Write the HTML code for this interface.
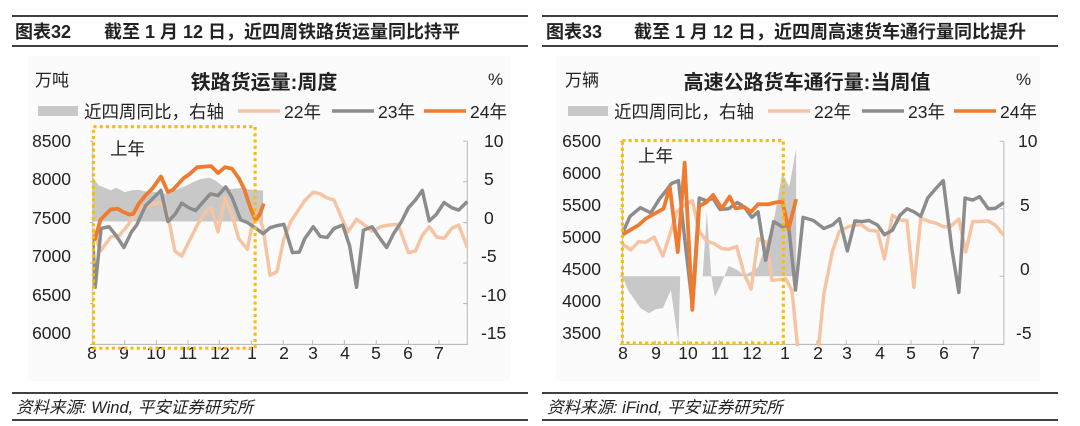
<!DOCTYPE html>
<html><head><meta charset="utf-8"><style>
html,body{margin:0;padding:0;background:#fff;width:1080px;height:426px;overflow:hidden}
svg{display:block}
text{font-family:"Liberation Sans","Noto Sans CJK SC",sans-serif;fill:#222}
</style></head><body>
<svg width="1080" height="426" viewBox="0 0 1080 426" xmlns="http://www.w3.org/2000/svg">
<defs>
<clipPath id="cl"><rect x="268" y="380" width="1085" height="620"/></clipPath>
<clipPath id="cr"><rect x="238" y="380" width="1105" height="620"/></clipPath>
</defs>
<!-- LEFT -->
<g>
<line x1="12" y1="16" x2="528" y2="16" stroke="#000" stroke-width="1.5"/>
<line x1="12" y1="46" x2="528" y2="46" stroke="#000" stroke-width="1.5"/>
<text x="15" y="38" font-size="18" font-weight="bold">图表32</text>
<text x="104" y="38" font-size="18" font-weight="bold">截至 1 月 12 日，近四周铁路货运量同比持平</text>
<line x1="12" y1="393" x2="528" y2="393" stroke="#000" stroke-width="1.5"/>
<line x1="12" y1="420" x2="528" y2="420" stroke="#000" stroke-width="1.5"/>
<text x="16" y="413" font-size="16.5" font-style="italic" fill="#333">资料来源: Wind, 平安证券研究所</text>
<rect x="28" y="56" width="482" height="325" fill="#fbfbfb"/>
<text x="35" y="86" font-size="17" fill="#444">万吨</text>
<text x="264" y="89" font-size="20" font-weight="bold" text-anchor="middle">铁路货运量:周度</text>
<text x="488" y="85" font-size="17">%</text>
<rect x="38" y="106" width="40" height="10" fill="#c8c8c8"/>
<text x="84" y="118" font-size="17.5" fill="#444">近四周同比，右轴</text>
<line x1="238" y1="111" x2="280" y2="111" stroke="#f7c4a3" stroke-width="3.5"/>
<text x="284" y="118" font-size="17.5">22年</text>
<line x1="332" y1="111" x2="374" y2="111" stroke="#8c8c8c" stroke-width="3.5"/>
<text x="378" y="118" font-size="17.5">23年</text>
<line x1="424" y1="111" x2="466" y2="111" stroke="#ee7b30" stroke-width="3.5"/>
<text x="470" y="118" font-size="17.5">24年</text>
<g font-size="17.5" text-anchor="end">
<text x="71" y="147">8500</text><text x="71" y="185">8000</text><text x="71" y="224">7500</text><text x="71" y="262">7000</text><text x="71" y="301">6500</text><text x="71" y="339">6000</text>
</g>
<g font-size="17.5">
<text x="484" y="147">10</text><text x="484" y="185">5</text><text x="484" y="224">0</text><text x="481" y="262">-5</text><text x="481" y="301">-10</text><text x="481" y="339">-15</text>
</g>
<g font-size="17.5" text-anchor="middle">
<text x="92" y="359">8</text><text x="124" y="359">9</text><text x="156" y="359">10</text><text x="188" y="359">11</text><text x="220" y="359">12</text><text x="252" y="359">1</text><text x="284" y="359">2</text><text x="313" y="359">3</text><text x="345" y="359">4</text><text x="376" y="359">5</text><text x="408" y="359">6</text><text x="439" y="359">7</text>
</g>
<g transform="scale(0.34615)">
<g stroke="#bbb" stroke-width="3" fill="none">
<path d="M268 408V995H1350V408M268 995h-8M268 877h-8M268 760h-8M268 643h-8M268 525h-8M268 408h-8M1350 877h-12M1350 760h-12M1350 643h-12M1350 525h-12M1350 408h-12M360 995v-12M452 995v-12M543 995v-12M634 995v-12M726 995v-12M818 995v-12M903 995v-12M995 995v-12M1087 995v-12M1180 995v-12M1268 995v-12"/>
</g>
<g clip-path="url(#cl)">
<polygon fill="#c8c8c8" points="268,640 268,512 285,535 320,550 335,542 360,555 380,550 400,548 420,553 450,555 480,560 510,548 540,535 560,525 580,517 605,513 620,520 640,535 660,547 680,545 700,543 720,547 740,550 760,550 760,640"/>
<polyline fill="none" stroke="#f7c4a3" stroke-width="10" stroke-linejoin="round" points="268,660 290,725 320,685 345,680 370,650 395,610 420,595 440,590 465,585 485,620 505,725 525,740 545,700 570,650 595,610 610,600 630,670 650,570 670,620 690,690 715,720 730,640 750,630 760,660 780,795 800,785 820,690 840,640 860,610 880,580 905,555 925,560 945,572 965,578 985,625 1005,670 1030,633 1050,648 1075,668 1100,655 1125,650 1150,648 1180,730 1200,725 1220,680 1240,655 1262,685 1283,688 1305,660 1325,650 1350,715"/>
<polyline fill="none" stroke="#8c8c8c" stroke-width="10" stroke-linejoin="round" points="268,690 275,830 292,660 315,655 335,680 358,715 380,670 395,650 420,595 445,570 465,550 485,640 505,620 525,587 545,600 565,608 590,580 608,560 630,565 652,540 670,570 695,635 715,643 740,660 760,675 780,658 800,652 820,648 845,730 865,728 880,690 905,655 925,683 945,686 965,660 990,650 1010,710 1030,830 1050,665 1075,655 1095,685 1117,715 1137,675 1160,640 1180,600 1200,578 1220,550 1240,638 1260,620 1283,585 1305,600 1325,607 1350,582"/>
<polyline fill="none" stroke="#ee7b30" stroke-width="11" stroke-linejoin="round" points="268,680 275,690 290,635 320,605 340,603 355,612 375,620 385,618 400,590 420,565 440,545 465,510 485,555 500,548 530,515 545,505 570,483 610,480 630,500 650,483 670,487 690,515 705,545 725,605 738,635 750,620 762,588"/>
</g>
<rect x="270" y="366" width="467" height="640" fill="none" stroke="#fbbc05" stroke-width="9" stroke-dasharray="9 9"/>
</g>
<text x="110" y="155" font-size="17.5">上年</text>
</g>
<!-- RIGHT -->
<g>
<line x1="542" y1="16" x2="1058" y2="16" stroke="#000" stroke-width="1.5"/>
<line x1="542" y1="46" x2="1058" y2="46" stroke="#000" stroke-width="1.5"/>
<text x="546" y="38" font-size="18" font-weight="bold">图表33</text>
<text x="634" y="38" font-size="18" font-weight="bold">截至 1 月 12 日，近四周高速货车通行量同比提升</text>
<line x1="542" y1="393" x2="1058" y2="393" stroke="#000" stroke-width="1.5"/>
<line x1="542" y1="420" x2="1058" y2="420" stroke="#000" stroke-width="1.5"/>
<text x="547" y="413" font-size="16.5" font-style="italic" fill="#333">资料来源: iFind, 平安证券研究所</text>
<rect x="556" y="56" width="484" height="325" fill="#fbfbfb"/>
<text x="565" y="86" font-size="17" fill="#444">万辆</text>
<text x="807" y="89" font-size="20" font-weight="bold" text-anchor="middle">高速公路货车通行量:当周值</text>
<text x="1016" y="85" font-size="17">%</text>
<rect x="568" y="106" width="40" height="10" fill="#c8c8c8"/>
<text x="614" y="118" font-size="17.5" fill="#444">近四周同比，右轴</text>
<line x1="768" y1="111" x2="810" y2="111" stroke="#f7c4a3" stroke-width="3.5"/>
<text x="814" y="118" font-size="17.5">22年</text>
<line x1="862" y1="111" x2="904" y2="111" stroke="#8c8c8c" stroke-width="3.5"/>
<text x="908" y="118" font-size="17.5">23年</text>
<line x1="954" y1="111" x2="996" y2="111" stroke="#ee7b30" stroke-width="3.5"/>
<text x="1000" y="118" font-size="17.5">24年</text>
<g font-size="17.5" text-anchor="end">
<text x="601" y="147">6500</text><text x="601" y="179">6000</text><text x="601" y="211">5500</text><text x="601" y="243">5000</text><text x="601" y="275">4500</text><text x="601" y="307">4000</text><text x="601" y="339">3500</text>
</g>
<g font-size="17.5">
<text x="1018" y="147">10</text><text x="1020" y="211">5</text><text x="1020" y="275">0</text><text x="1016" y="339">-5</text>
</g>
<g font-size="17.5" text-anchor="middle">
<text x="623" y="359">8</text><text x="656" y="359">9</text><text x="688" y="359">10</text><text x="720" y="359">11</text><text x="752" y="359">12</text><text x="785" y="359">1</text><text x="818" y="359">2</text><text x="847" y="359">3</text><text x="880" y="359">4</text><text x="911" y="359">5</text><text x="944" y="359">6</text><text x="975" y="359">7</text>
</g>
<g transform="translate(540,0) scale(0.34615)">
<g stroke="#bbb" stroke-width="3" fill="none">
<path d="M238 408V995H1340V408M238 995h-8M238 897h-8M238 798h-8M238 700h-8M238 603h-8M238 505h-8M238 408h-8M1340 798h-12M1340 603h-12M1340 408h-12M333 995v-12M427 995v-12M518 995v-12M612 995v-12M706 995v-12M800 995v-12M885 995v-12M978 995v-12M1072 995v-12M1165 995v-12M1255 995v-12"/>
</g>
<g clip-path="url(#cr)">
<polygon fill="#c8c8c8" points="238,798 255,840 290,890 315,905 335,893 355,890 378,838 400,990 405,798 470,798 482,612 495,798 505,858 520,828 545,768 570,780 590,795 610,785 630,772 650,712 675,640 700,500 720,540 740,430 740,798"/>
<polyline fill="none" stroke="#f7c4a3" stroke-width="10" stroke-linejoin="round" points="238,705 262,722 285,698 305,700 330,685 355,740 378,668 395,612 418,592 440,580 460,668 480,695 505,705 525,718 545,720 568,712 590,792 610,835 630,690 655,700 670,810 690,808 710,805 728,840 745,1010 760,1060 790,1060 805,1000 820,850 845,725 865,668 890,655 915,650 930,650 950,665 975,668 995,748 1018,622 1040,636 1060,637 1080,830 1100,630 1125,640 1145,645 1165,655 1185,655 1210,633 1230,728 1250,640 1270,640 1295,638 1315,650 1340,680"/>
<polyline fill="none" stroke="#8c8c8c" stroke-width="10" stroke-linejoin="round" points="238,675 260,625 290,600 320,615 345,575 365,550 380,530 400,522 418,690 440,880 460,572 480,580 500,573 520,605 545,603 570,585 590,598 612,628 630,612 652,752 675,640 700,655 718,650 738,838 760,628 790,637 820,660 845,650 865,632 888,725 910,638 930,640 950,637 975,650 995,678 1018,665 1040,622 1060,603 1080,612 1100,625 1120,572 1145,543 1165,522 1190,720 1210,845 1228,572 1250,578 1270,568 1295,603 1315,602 1340,585"/>
<polyline fill="none" stroke="#ee7b30" stroke-width="11" stroke-linejoin="round" points="238,678 260,665 285,650 305,632 335,615 357,603 375,540 398,728 418,470 440,895 460,595 480,585 500,563 525,602 548,568 565,602 590,598 610,612 630,590 660,590 680,585 700,582 718,662 740,575"/>
</g>
<rect x="238" y="406" width="465" height="585" fill="none" stroke="#fbbc05" stroke-width="9" stroke-dasharray="9 9"/>
</g>
<text x="638" y="162" font-size="17.5">上年</text>
</g>
</svg>
</body></html>
